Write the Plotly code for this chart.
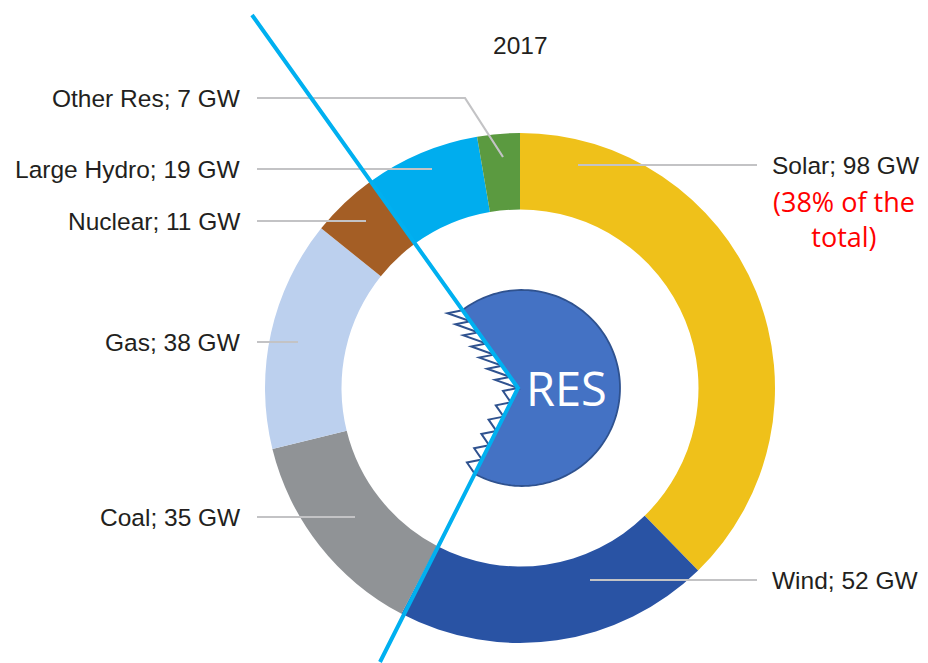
import math
import plotly.graph_objects as go

# ---- data ----
categories = ["Solar", "Wind", "Coal", "Gas", "Nuclear", "Large Hydro", "Other Res"]
values_gw = [98, 52, 35, 38, 11, 19, 7]
colors = ["#EFC11A", "#2953A4", "#909396", "#BCD0EE", "#A45E25", "#00ADEE", "#5B9A40"]
year_title = "2017"

# page shows the figure with an 8px body margin -> compensate
OFF = 8
SW, SH = 928, 663           # screen size
W, H = SW - OFF, SH - OFF   # figure size
CX, CY, R_OUT = 520, 388, 255
HOLE = 0.70

fig = go.Figure()

fig.add_trace(go.Pie(
    labels=categories, values=values_gw, sort=False, direction="clockwise", rotation=0,
    hole=HOLE, textinfo="none", hoverinfo="label+value",
    marker=dict(colors=colors, line=dict(width=0)),
    domain=dict(x=[(CX - R_OUT - OFF) / W, (CX + R_OUT - OFF) / W],
                y=[1 - (CY + R_OUT - OFF) / H, 1 - (CY - R_OUT - OFF) / H]),
    showlegend=False,
))

# invisible cartesian overlay in screen-pixel units
fig.add_trace(go.Scatter(x=[OFF, SW], y=[OFF, SH], mode="markers", marker=dict(opacity=0),
                         hoverinfo="skip", showlegend=False))

shapes = []
annotations = []
LEADER = dict(color="#C3C3C5", width=2.2)
TXT = dict(family="Liberation Sans, Arial, sans-serif", size=24.5, color="#231F20")

left_labels = [
    ("Other Res", 98, [(257, 98), (465, 98), (503, 157)]),
    ("Large Hydro", 169, [(257, 169), (432, 169)]),
    ("Nuclear", 221, [(257, 221), (366, 221)]),
    ("Gas", 342, [(257, 342), (298, 342)]),
    ("Coal", 517, [(257, 517), (355, 517)]),
]
right_labels = [
    ("Solar", 165, [(757, 165), (578, 165)]),
    ("Wind", 580, [(757, 580), (590, 580)]),
]

def path_from(pts, close=False):
    s = "M " + " L ".join(f"{x:.2f},{y:.2f}" for x, y in pts)
    return s + (" Z" if close else "")

val = dict(zip(categories, values_gw))
for name, y, pts in left_labels:
    shapes.append(dict(type="path", path=path_from(pts), xref="x", yref="y",
                       line=LEADER, layer="above"))
    annotations.append(dict(x=243, y=y, xref="x", yref="y", text=f"{name}; {val[name]} GW",
                            showarrow=False, xanchor="right", yanchor="middle", font=TXT))
for name, y, pts in right_labels:
    shapes.append(dict(type="path", path=path_from(pts), xref="x", yref="y",
                       line=LEADER, layer="above"))
    annotations.append(dict(x=770, y=y, xref="x", yref="y", text=f"{name}; {val[name]} GW",
                            showarrow=False, xanchor="left", yanchor="middle", font=TXT))

# red note
total = sum(values_gw)
pct = round(100 * val["Solar"] / total)
RED = dict(family="Open Sans, Noto Sans, sans-serif", size=27, color="#FF0000")
annotations.append(dict(x=844, y=219, xref="x", yref="y", text=f"({pct}% of the<br>total)",
                        showarrow=False, xanchor="center", yanchor="middle", align="center",
                        font=RED))

# title
annotations.append(dict(x=CX, y=45, xref="x", yref="y", text=year_title, showarrow=False,
                        xanchor="center", yanchor="middle", font=TXT))

# RES circle with V cut-out
VX, VY = 518, 388          # vertex of the cyan V
RCX, RCY, RC = 522, 388, 98  # circle
top_pt = (252, 15)
bot_pt = (380, 662)

def unit(ax, ay, bx, by):
    dx, dy = bx - ax, by - ay
    L = math.hypot(dx, dy)
    return dx / L, dy / L

def ray_circle(u):
    # point on circle along ray from vertex with direction u
    fx, fy = VX - RCX, VY - RCY
    b = fx * u[0] + fy * u[1]
    c = fx * fx + fy * fy - RC * RC
    t = -b + math.sqrt(b * b - c)
    return (VX + u[0] * t, VY + u[1] * t)

ut = unit(VX, VY, *top_pt)
ub = unit(VX, VY, *bot_pt)
p_top = ray_circle(ut)
p_bot = ray_circle(ub)
a1 = math.atan2(p_top[1] - RCY, p_top[0] - RCX)
a2 = math.atan2(p_bot[1] - RCY, p_bot[0] - RCX)
if a2 < a1:
    a2 += 2 * math.pi
n = 120
arc = [(RCX + RC * math.cos(a1 + (a2 - a1) * i / n), RCY + RC * math.sin(a1 + (a2 - a1) * i / n))
       for i in range(n + 1)]
circle_pts = arc + [(VX, VY)]
shapes.append(dict(type="path", path=path_from(circle_pts, close=True), xref="x", yref="y",
                   fillcolor="#4472C4", line=dict(color="#2F528F", width=1.8), layer="above"))

# sawtooth teeth along the cut
def teeth(p_upper_start, p_lower_end, count, depth=15, drop=3):
    out = []
    for i in range(count):
        t0, t1 = i / count, (i + 1) / count
        a = (p_upper_start[0] + (p_lower_end[0] - p_upper_start[0]) * t0,
             p_upper_start[1] + (p_lower_end[1] - p_upper_start[1]) * t0)
        b = (p_upper_start[0] + (p_lower_end[0] - p_upper_start[0]) * t1,
             p_upper_start[1] + (p_lower_end[1] - p_upper_start[1]) * t1)
        apex = (a[0] - depth, a[1] + drop)
        out.append([a, apex, b])
    return out

for tri in teeth(p_top, (VX, VY), 7):
    shapes.append(dict(type="path", path=path_from(tri, close=True), xref="x", yref="y",
                       fillcolor="white", line=dict(color="#2F528F", width=2), layer="above"))
for tri in teeth((VX, VY), p_bot, 6):
    shapes.append(dict(type="path", path=path_from(tri, close=True), xref="x", yref="y",
                       fillcolor="white", line=dict(color="#2F528F", width=2), layer="above"))

# RES label
annotations.append(dict(x=566, y=388, xref="x", yref="y", text="RES", showarrow=False,
                        xanchor="center", yanchor="middle",
                        font=dict(family="Open Sans, Noto Sans, sans-serif", size=47, color="white")))

# cyan V line
shapes.append(dict(type="path", path=path_from([top_pt, (VX, VY), bot_pt]), xref="x", yref="y",
                   line=dict(color="#00B0F0", width=4), layer="above"))

fig.update_layout(
    width=W, height=H, margin=dict(l=0, r=0, t=0, b=0),
    paper_bgcolor="white", plot_bgcolor="rgba(0,0,0,0)",
    xaxis=dict(range=[OFF, SW], visible=False, fixedrange=True),
    yaxis=dict(range=[SH, OFF], visible=False, fixedrange=True),
    shapes=shapes, annotations=annotations, showlegend=False,
)

fig.write_html("out.html")
